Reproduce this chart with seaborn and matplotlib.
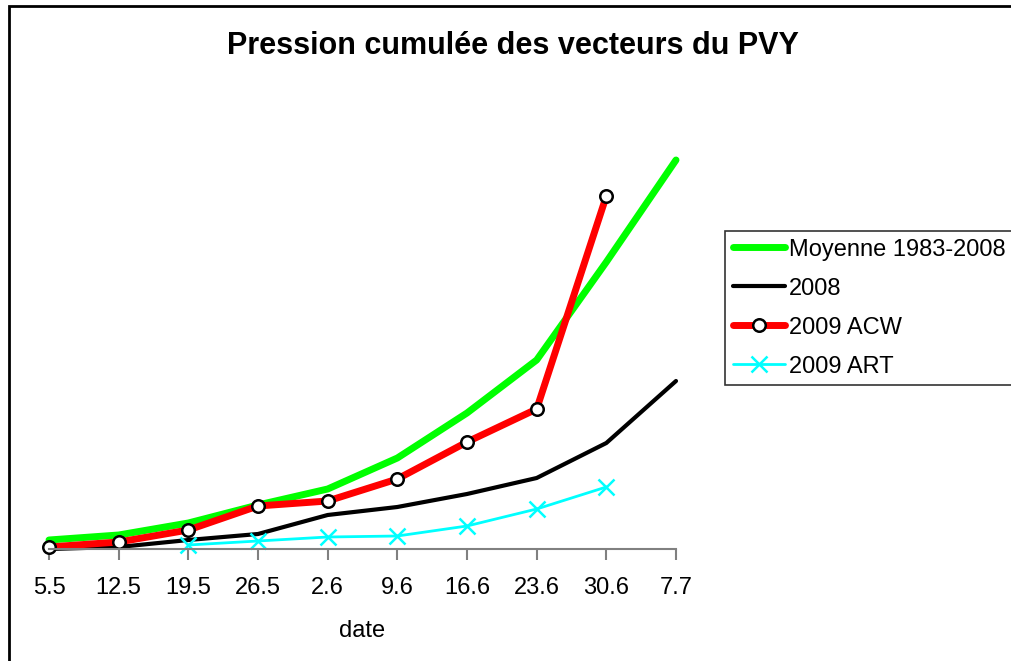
import matplotlib
matplotlib.use('Agg')
import matplotlib.pyplot as plt
import seaborn as sns
import pandas as pd
from matplotlib.patches import Rectangle

# Data (arbitrary units, 0 = x axis)
dates = ['5.5', '12.5', '19.5', '26.5', '2.6', '9.6', '16.6', '23.6', '30.6', '7.7']
moyenne = [9, 14, 26, 44, 60, 91, 136, 189, 287, 389]
y2008 = [0, 2, 9, 15, 34, 42, 55, 71, 106, 168]
acw_2009 = [2, 7, 19, 43, 48, 70, 107, 140, 353, None]
art_2009 = [None, None, 4, 8, 12, 13, 23, 40, 62, None]

sns.set_theme(style='white')
plt.rcParams['font.family'] = ['Liberation Sans', 'DejaVu Sans']
plt.rcParams['text.color'] = 'black'
plt.rcParams['axes.labelcolor'] = 'black'
plt.rcParams['xtick.labelcolor'] = 'black'

df = pd.DataFrame({'pos': range(len(dates)), 'date': dates,
                   'Moyenne 1983-2008': moyenne, '2008': y2008,
                   '2009 ACW': acw_2009, '2009 ART': art_2009})

W, H = 1011, 661
fig = plt.figure(figsize=(W / 100, H / 100), dpi=100)
ax_left, ax_right, ax_bottom, ax_top = 49, 676, 549, 129
ax = fig.add_axes([ax_left / W, (H - ax_bottom) / H,
                   (ax_right - ax_left) / W, (ax_bottom - ax_top) / H])

sns.lineplot(data=df, x='pos', y='Moyenne 1983-2008', ax=ax, color='#00ff00',
             linewidth=5, label='Moyenne 1983-2008', clip_on=False)
sns.lineplot(data=df, x='pos', y='2008', ax=ax, color='black',
             linewidth=3, label='2008', clip_on=False)
sns.lineplot(data=df.dropna(subset=['2009 ACW']), x='pos', y='2009 ACW', ax=ax,
             color='#ff0000', linewidth=5, marker='o', markersize=9,
             markerfacecolor='white', markeredgecolor='black', markeredgewidth=1.8,
             label='2009 ACW', clip_on=False)
sns.lineplot(data=df.dropna(subset=['2009 ART']), x='pos', y='2009 ART', ax=ax,
             color='#00ffff', linewidth=2, marker='x', markersize=12,
             markeredgecolor='#00ffff', markeredgewidth=1.8,
             label='2009 ART', clip_on=False)

ax.set_xlim(0, len(dates) - 1)
ax.set_ylim(0, ax_bottom - ax_top)
ax.set_xticks(range(len(dates)))
ax.set_xticklabels(dates, fontsize=17)
ax.set_yticks([])
ax.set_ylabel('')
ax.set_xlabel('date', fontsize=17, labelpad=15)
for s in ['top', 'right', 'left']:
    ax.spines[s].set_visible(False)
ax.spines['bottom'].set_color('#808080')
ax.spines['bottom'].set_linewidth(1.5)
ax.tick_params(axis='x', direction='out', length=8, width=1.5, color='#808080',
               pad=12, bottom=True)
ax.patch.set_alpha(0)

fig.text(513 / W, 1 - 46 / H, 'Pression cumulée des vecteurs du PVY',
         ha='center', va='center', fontsize=22, fontweight='bold')

leg = ax.legend(loc='upper left', bbox_to_anchor=(725 / W, 1 - 231 / H),
                bbox_transform=fig.transFigure, fontsize=17, frameon=True,
                fancybox=False, edgecolor='black', handlelength=2.2,
                handletextpad=0.2, borderpad=0.32, labelspacing=0.72,
                borderaxespad=0)
leg.get_frame().set_linewidth(1.2)

fig.patches.append(Rectangle((9 / W, -0.1), 1.2, 1.1 - 6 / H,
                             transform=fig.transFigure, fill=False,
                             edgecolor='black', linewidth=2))

fig.savefig('out.png', dpi=100)
